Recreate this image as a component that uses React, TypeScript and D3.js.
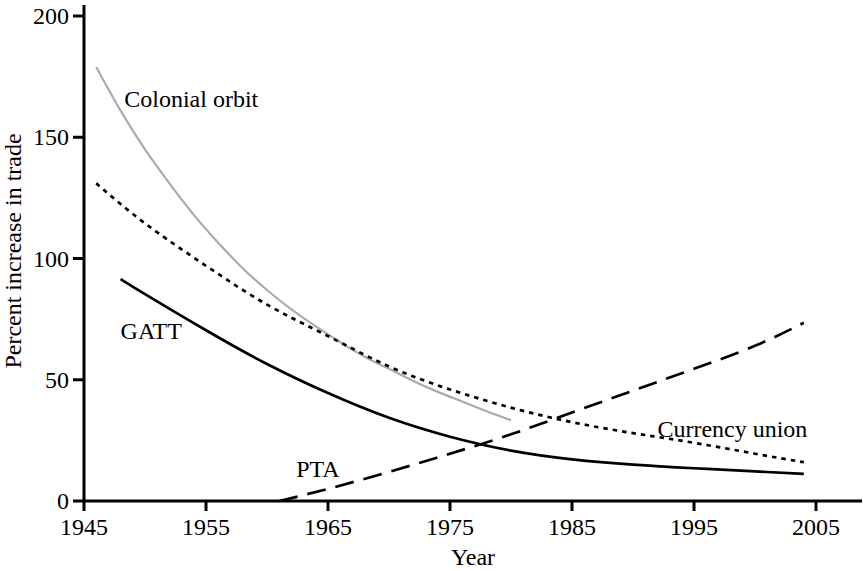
import React from "react";
import * as d3 from "d3";

const colonialYears = [1946, 1948, 1950, 1952, 1954, 1956, 1958, 1960, 1962, 1964, 1966, 1968, 1970, 1972, 1974, 1976, 1978, 1980];
const colonialValues = [179, 161, 145, 131, 118, 106.5, 96, 87, 79, 72, 65.5, 59.5, 54.5, 49.5, 45, 41, 37, 33.3];

const currencyYears = [1946, 1950, 1955, 1960, 1965, 1970, 1975, 1980, 1985, 1990, 1995, 2000, 2004];
const currencyValues = [131, 114.5, 97, 81, 68, 55.5, 46, 38.5, 32.5, 28, 24, 19.5, 16];

const gattYears = [1948, 1950, 1955, 1960, 1965, 1970, 1975, 1980, 1985, 1990, 1995, 2000, 2004];
const gattValues = [91.5, 85.3, 70.4, 56.5, 44.5, 34.3, 26.5, 20.8, 17.2, 15, 13.5, 12.2, 11.2];

const ptaYears = [1961, 1965, 1970, 1975, 1980, 1985, 1990, 1995, 2000, 2004];
const ptaValues = [0, 5, 12, 19.5, 27.5, 36.5, 45.5, 54.5, 64, 73.5];

const xTicks = [1945, 1955, 1965, 1975, 1985, 1995, 2005];
const yTicks = [0, 50, 100, 150, 200];

const labelNames = ["Colonial orbit", "GATT", "PTA", "Currency union"];
const labelYears = [1948.3, 1948.0, 1962.4, 1992.0];
const labelValues = [162.4, 67.0, 9.7, 26.5];

const W = 863;
const H = 571;
const FONT = "'Liberation Serif', 'Times New Roman', serif";
const FS = 24;

export default function App() {
  const x = d3.scaleLinear().domain([1945, 2005]).range([84, 816]);
  const y = d3.scaleLinear().domain([0, 200]).range([501, 16]);

  const line = d3
    .line<[number, number]>()
    .x((d) => x(d[0]))
    .y((d) => y(d[1]))
    .curve(d3.curveNatural);

  const zip = (a: number[], b: number[]) => a.map((v, i) => [v, b[i]] as [number, number]);

  const series = [
    { pts: zip(colonialYears, colonialValues), color: "#ababab", width: 2.2, dash: undefined as string | undefined },
    { pts: zip(currencyYears, currencyValues), color: "#000", width: 2.7, dash: "4.5,5" },
    { pts: zip(gattYears, gattValues), color: "#000", width: 2.7, dash: undefined },
    { pts: zip(ptaYears, ptaValues), color: "#000", width: 2.7, dash: "19,10" },
  ];

  const x0 = x(1945);
  const y0 = y(0);

  return (
    <svg
      width={W}
      height={H}
      style={{ position: "absolute", left: 0, top: 0, background: "#fff" }}
      fontFamily={FONT}
    >
      <rect x={0} y={0} width={W} height={H} fill="#fff" />
      {series.map((s, i) => (
        <path
          key={i}
          d={line(s.pts) || ""}
          fill="none"
          stroke={s.color}
          strokeWidth={s.width}
          strokeDasharray={s.dash}
        />
      ))}
      <line x1={x0} y1={5} x2={x0} y2={y0} stroke="#000" strokeWidth={3} />
      <line x1={x0 - 1.5} y1={y0} x2={862} y2={y0} stroke="#000" strokeWidth={3} />
      {yTicks.map((t) => (
        <g key={"y" + t}>
          <line x1={x0 - 11} y1={y(t)} x2={x0} y2={y(t)} stroke="#000" strokeWidth={3} />
          <text x={x0 - 15} y={y(t) + 8} textAnchor="end" fontSize={FS} fill="#000">
            {t}
          </text>
        </g>
      ))}
      {xTicks.map((t) => (
        <g key={"x" + t}>
          <line x1={x(t)} y1={y0} x2={x(t)} y2={y0 + 10} stroke="#000" strokeWidth={3} />
          <text x={x(t)} y={y0 + 34} textAnchor="middle" fontSize={FS} fill="#000">
            {t}
          </text>
        </g>
      ))}
      <text x={473} y={565} textAnchor="middle" fontSize={FS} fill="#000">
        Year
      </text>
      <text
        transform={`translate(21, 251) rotate(-90)`}
        textAnchor="middle"
        fontSize={FS}
        fill="#000"
      >
        Percent increase in trade
      </text>
      {labelNames.map((n, i) => (
        <text key={n} x={x(labelYears[i])} y={y(labelValues[i])} fontSize={FS} fill="#000">
          {n}
        </text>
      ))}
    </svg>
  );
}
